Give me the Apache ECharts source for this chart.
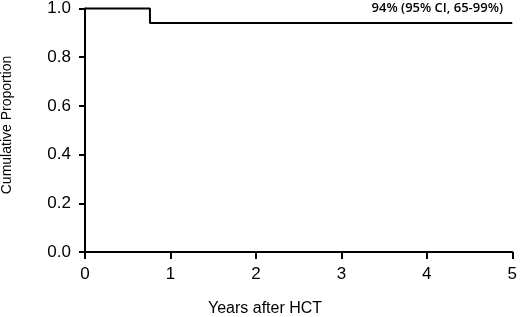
<!DOCTYPE html>
<html>
<head>
<meta charset="utf-8">
<script src="https://cdn.jsdelivr.net/npm/echarts@6/dist/echarts.min.js"></script>
<style>
  html, body { margin: 0; padding: 0; background: #fff; }
  #chart { width: 520px; height: 317px; }
</style>
</head>
<body>
<div id="chart"></div>
<script>
// Kaplan-Meier style step curve
var stepYears = [0, 0.76, 5];
var stepValues = [1.0, 0.94, 0.94];
var xTicks = [0, 1, 2, 3, 4, 5];
var yTicks = [0.0, 0.2, 0.4, 0.6, 0.8, 1.0];
var noteText = "94% (95% CI, 65-99%)";

var curve = stepYears.map(function (t, i) {
  return [t, stepValues[i]];
});

var chart = echarts.init(document.getElementById("chart"));
var font = "Liberation Sans, Arial, sans-serif";

var option = {
  animation: false,
  grid: { left: 85, right: 4, top: 6, bottom: 65 },
  xAxis: {
    type: "value",
    min: xTicks[0],
    max: xTicks[xTicks.length - 1],
    interval: 1,
    offset: 3,
    splitLine: { show: false },
    axisLine: { show: true, lineStyle: { color: "#000", width: 2 } },
    axisTick: { show: true, length: 7, lineStyle: { color: "#000", width: 2 } },
    axisLabel: { color: "#000", fontSize: 17, fontFamily: font, margin: 11 }
  },
  yAxis: {
    type: "value",
    min: yTicks[0],
    max: yTicks[yTicks.length - 1],
    interval: 0.2,
    offset: 3,
    splitLine: { show: false },
    axisLine: { show: true, lineStyle: { color: "#000", width: 2 } },
    axisTick: { show: true, length: 6, lineStyle: { color: "#000", width: 2 } },
    axisLabel: {
      color: "#000", fontSize: 17, fontFamily: font, margin: 11,
      formatter: function (v) { return v.toFixed(1); }
    }
  },
  graphic: [
    {
      type: "text", left: 208, top: 301,
      style: { text: "Years after HCT", fill: "#000", font: "16px " + font }
    },
    {
      type: "text", x: 7, y: 125, rotation: Math.PI / 2,
      style: {
        text: "Cumulative Proportion", fill: "#000", font: "14px " + font,
        align: "center", verticalAlign: "middle"
      }
    },
    {
      type: "text", x: 503, y: 8,
      style: {
        text: noteText, fill: "#000", font: "600 13px 'Open Sans', sans-serif",
        align: "right", verticalAlign: "middle"
      }
    }
  ],
  series: [
    {
      type: "line",
      step: "end",
      data: curve,
      symbol: "none",
      clip: false,
      lineStyle: { color: "#000", width: 2 }
    }
  ]
};

chart.setOption(option);
</script>
</body>
</html>
